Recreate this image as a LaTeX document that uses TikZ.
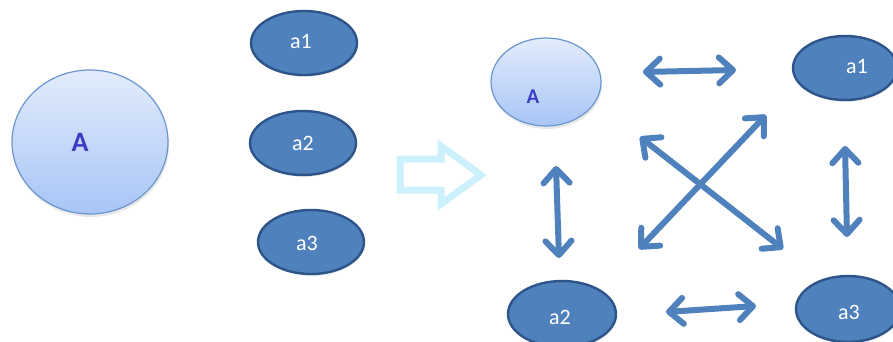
\documentclass[tikz,border=0pt]{standalone}
\usepackage{fontspec}
\setmainfont{Carlito}
\usetikzlibrary{arrows.meta,shadows}
\definecolor{nodeblue}{HTML}{4F81BD}
\definecolor{nodeedge}{HTML}{2E5589}
\definecolor{bigtop}{HTML}{E2ECFC}
\definecolor{bigbot}{HTML}{A8C5F6}
\definecolor{bigedge}{HTML}{6A95CF}
\definecolor{letterA}{HTML}{3D3BC4}
\definecolor{hollow}{HTML}{CDF0FD}
\tikzset{
  bigell/.style={draw=bigedge, line width=1.2pt, top color=bigtop, bottom color=bigbot,
    drop shadow={shadow xshift=1pt, shadow yshift=-3pt, opacity=0.18}},
  smallell/.style={draw=nodeedge, line width=2.4pt, fill=nodeblue,
    drop shadow={shadow xshift=1pt, shadow yshift=-2pt, opacity=0.15}},
  lettera/.style={text=white, font=\fontsize{22}{22}\selectfont},
  letterbig/.style={text=letterA, font=\bfseries\fontsize{28}{28}\selectfont},
  barb/.tip={Straight Barb[length=14pt,width=26pt,line cap=round,line join=round]},
  dbl/.style={draw=nodeblue, line width=6pt, barb-barb},
  hollowarrow/.style={draw=hollow, line width=7pt, line join=miter}
}
\begin{document}
\begin{tikzpicture}[x=1pt,y=-1pt]
\useasboundingbox (0,0) rectangle (893,342);
% left side
\path[bigell] (90,142) ellipse [x radius=78, y radius=72];
\node[letterbig] (A0) at (80,142) {A};
\path[smallell] (304,43) ellipse [x radius=53, y radius=32];
\node[lettera] (a10) at (301,42) {a1};
\path[smallell] (303,143) ellipse [x radius=53, y radius=32];
\node[lettera] (a20) at (303,143) {a2};
\path[smallell] (311,242) ellipse [x radius=53, y radius=32];
\node[lettera] (a30) at (307,243) {a3};
% hollow arrow
\draw[hollowarrow] (400,159) -- (441,159) -- (441,146) -- (481,175) -- (441,204) -- (441,190) -- (400,190) -- cycle;
% right side
\path[bigell] (546,82) ellipse [x radius=55, y radius=44];
\node[letterbig, font=\bfseries\fontsize{21}{21}\selectfont] (A1) at (533,97) {A};
\path[smallell] (845,68) ellipse [x radius=52, y radius=32];
\node[lettera] (a11) at (857,67) {a1};
\path[smallell] (562,314) ellipse [x radius=54, y radius=33];
\node[lettera] (a21) at (560,317) {a2};
\path[smallell] (848,309) ellipse [x radius=52, y radius=33];
\node[lettera] (a31) at (849,312) {a3};
% connector endpoints
\coordinate (t1) at (643,72);
\coordinate (t2) at (736,70);
\coordinate (l1) at (556,166);
\coordinate (l2) at (559,258);
\coordinate (r1) at (845,146);
\coordinate (r2) at (847,237);
\coordinate (b1) at (666,312);
\coordinate (b2) at (756,306);
\coordinate (d1) at (640,137);
\coordinate (d2) at (783,249);
\coordinate (e1) at (766,115);
\coordinate (e2) at (639,249);
\draw[dbl] (t1) -- (t2);
\draw[dbl] (l1) -- (l2);
\draw[dbl] (r1) -- (r2);
\draw[dbl] (b1) -- (b2);
\draw[dbl] (d1) -- (d2);
\draw[dbl] (e1) -- (e2);
\end{tikzpicture}
\end{document}
